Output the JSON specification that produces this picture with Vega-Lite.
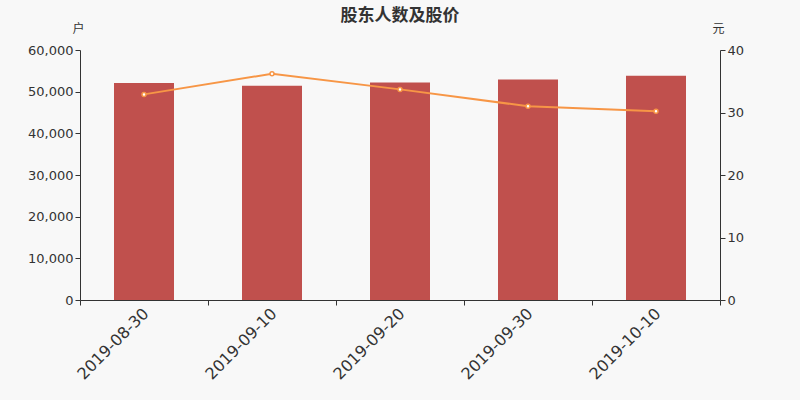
{
  "$schema": "https://vega.github.io/schema/vega-lite/v6.json",
  "background": "#f8f8f8",
  "autosize": {"type": "none"},
  "padding": {"left": 80, "top": 50, "right": 80, "bottom": 100},
  "width": 640,
  "height": 250,
  "title": {
    "text": "股东人数及股价",
    "font": "Noto Sans CJK SC",
    "fontSize": 17,
    "fontWeight": "bold",
    "color": "#333333",
    "anchor": "middle",
    "frame": "group",
    "offset": -3
  },
  "data": {
    "values": [
      {"date": "2019-08-30", "holders": 52100, "price": 32.9},
      {"date": "2019-09-10", "holders": 51400, "price": 36.2},
      {"date": "2019-09-20", "holders": 52200, "price": 33.7},
      {"date": "2019-09-30", "holders": 52900, "price": 31.0},
      {"date": "2019-10-10", "holders": 53800, "price": 30.2}
    ]
  },
  "encoding": {
    "x": {
      "field": "date",
      "type": "nominal",
      "title": null,
      "scale": {"paddingInner": 0, "paddingOuter": 0},
      "axis": {"labelAngle": -45, "labelFontSize": 16, "tickBand": "extent", "labelPadding": 0, "labelOffset": -4}
    }
  },
  "layer": [
    {
      "mark": {"type": "bar", "color": "#c0504d", "size": 60},
      "encoding": {
        "y": {
          "field": "holders",
          "type": "quantitative",
          "scale": {"domain": [0, 60000]},
          "axis": {
            "title": "户",
            "values": [0, 10000, 20000, 30000, 40000, 50000, 60000],
            "format": ",d",
            "titleAngle": 0,
            "titleX": -2,
            "titleY": -22,
            "titleAlign": "center",
            "titleBaseline": "middle"
          }
        }
      }
    },
    {
      "mark": {"type": "line", "color": "#f79646", "strokeWidth": 2},
      "encoding": {
        "y": {
          "field": "price",
          "type": "quantitative",
          "scale": {"domain": [0, 40]},
          "axis": {
            "orient": "right",
            "title": "元",
            "values": [0, 10, 20, 30, 40],
            "titleAngle": 0,
            "titleX": -2,
            "titleY": -22,
            "titleAlign": "center",
            "titleBaseline": "middle"
          }
        }
      }
    },
    {
      "mark": {"type": "point", "filled": true, "fill": "white", "stroke": "#f79646", "strokeWidth": 1.5, "size": 16, "opacity": 1},
      "encoding": {
        "y": {"field": "price", "type": "quantitative", "scale": {"domain": [0, 40]}, "axis": null}
      }
    }
  ],
  "resolve": {"scale": {"y": "independent"}},
  "config": {
    "view": {"stroke": null},
    "axis": {
      "labelFont": "DejaVu Sans",
      "labelFontSize": 13,
      "labelColor": "#333333",
      "titleFont": "Noto Sans CJK SC",
      "titleFontSize": 12,
      "titleFontWeight": "normal",
      "titleColor": "#333333",
      "domainColor": "#333333",
      "tickColor": "#333333",
      "tickSize": 5,
      "grid": false
    }
  }
}
